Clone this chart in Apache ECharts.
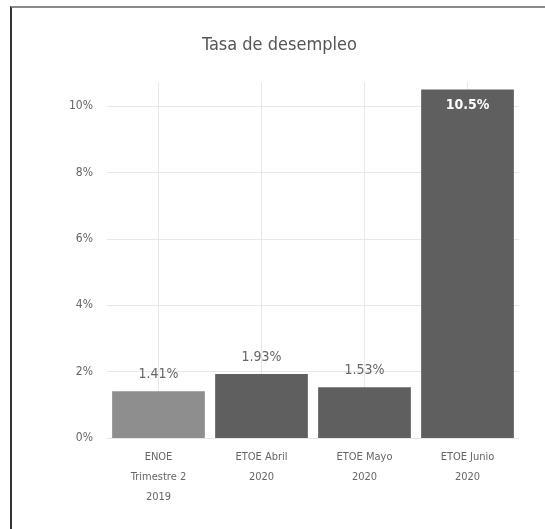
<!DOCTYPE html>
<html><head><meta charset="utf-8">
<script src="https://cdn.jsdelivr.net/npm/echarts@6/dist/echarts.min.js"></script>
<style>
html,body{margin:0;padding:0;background:#fff;}
#frame{position:absolute;left:10px;top:6px;width:535px;height:523px;border-top:2px solid #8a8a8a;border-left:2px solid #333;box-sizing:border-box;}
#c{position:absolute;left:0;top:0;width:545px;height:529px;}
</style></head>
<body>
<div id="frame"></div>
<div id="c"></div>
<script>
const categories = ['ENOE\nTrimestre 2\n2019', 'ETOE Abril\n2020', 'ETOE Mayo\n2020', 'ETOE Junio\n2020'];
const values = [1.41, 1.93, 1.53, 10.5];
const valueLabels = ['1.41%', '1.93%', '1.53%', '10.5%'];
const barColors = ['#8e8e8e', '#5f5f5f', '#5f5f5f', '#5f5f5f'];
const yTicks = {min: 0, max: 10, interval: 2};
const FONT = '"DejaVu Sans Condensed", "Liberation Sans Narrow", sans-serif';

const chart = echarts.init(document.getElementById('c'));
chart.setOption({
  animation: false,
  title: {text: 'Tasa de desempleo', left: 202, top: 36, padding: 0,
    textStyle: {fontFamily: FONT, fontSize: 18, fontWeight: 'normal', color: '#555'}},
  grid: [
    {left: 107, right: 26, top: 106, bottom: 91},
    {left: 107, right: 26, top: 82, bottom: 91}
  ],
  xAxis: [
    {type: 'category', data: categories, gridIndex: 0,
      axisLine: {show: false}, axisTick: {show: false}, splitLine: {show: false},
      axisLabel: {interval: 0, color: '#666', fontFamily: FONT, fontSize: 11, lineHeight: 20, margin: 9}},
    {type: 'category', data: categories, gridIndex: 1, show: false}
  ],
  yAxis: [
    {type: 'value', gridIndex: 0, min: yTicks.min, max: yTicks.max, interval: yTicks.interval,
      splitLine: {lineStyle: {color: '#e8e8e8'}},
      axisLabel: {formatter: v => v + '%', color: '#666', fontFamily: FONT, fontSize: 12, margin: 14}},
    {type: 'value', gridIndex: 1, show: false, min: 0, max: 1}
  ],
  series: [
    {type: 'bar', xAxisIndex: 1, yAxisIndex: 1, data: [],
      markLine: {silent: true, symbol: 'none', label: {show: false},
        lineStyle: {color: '#e8e8e8', type: 'solid', width: 1},
        data: categories.map((c, i) => ({xAxis: i}))}},
    {type: 'bar', xAxisIndex: 0, yAxisIndex: 0, barCategoryGap: '10%', clip: false, z: 5,
      data: values.map((v, i) => {
        const inside = v > 5;
        return {value: v, itemStyle: {color: barColors[i]},
          label: {show: true, position: inside ? 'insideTop' : 'top', distance: inside ? 9 : 10,
            formatter: valueLabels[i], color: inside ? '#fff' : '#666',
            fontWeight: inside ? 'bold' : 'normal', fontFamily: FONT, fontSize: 14}};
      })}
  ]
});
</script>
</body></html>
